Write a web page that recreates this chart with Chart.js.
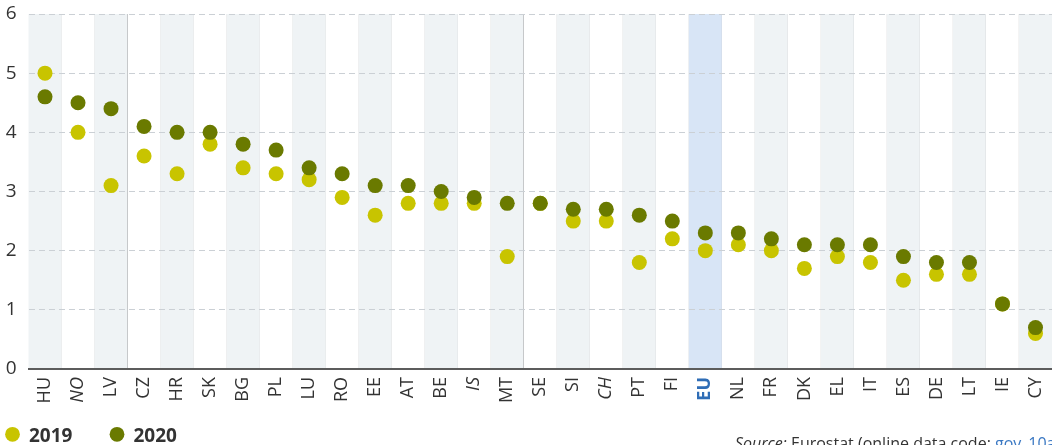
<!DOCTYPE html>
<html>
<head>
<meta charset="utf-8">
<script src="https://cdn.jsdelivr.net/npm/chart.js@4/dist/chart.umd.min.js"></script>
<style>
    html, body { margin: 0; padding: 0; background: #fff; }
    #chart { display: block; }
</style>
</head>
<body>
<canvas id="chart" width="1052" height="445"></canvas>
<script>
const countries = ['HU', 'NO', 'LV', 'CZ', 'HR', 'SK', 'BG', 'PL', 'LU', 'RO', 'EE', 'AT', 'BE', 'IS', 'MT', 'SE',
    'SI', 'CH', 'PT', 'FI', 'EU', 'NL', 'FR', 'DK', 'EL', 'IT', 'ES', 'DE', 'LT', 'IE', 'CY'];
const values2019 = [5.0, 4.0, 3.1, 3.6, 3.3, 3.8, 3.4, 3.3, 3.2, 2.9, 2.6, 2.8, 2.8, 2.8, 1.9, 2.8,
    2.5, 2.5, 1.8, 2.2, 2.0, 2.1, 2.0, 1.7, 1.9, 1.8, 1.5, 1.6, 1.6, 1.1, 0.6];
const values2020 = [4.6, 4.5, 4.4, 4.1, 4.0, 4.0, 3.8, 3.7, 3.4, 3.3, 3.1, 3.1, 3.0, 2.9, 2.8, 2.8,
    2.7, 2.7, 2.6, 2.5, 2.3, 2.3, 2.2, 2.1, 2.1, 2.1, 1.9, 1.8, 1.8, 1.1, 0.7];
const nonEu = ['NO', 'IS', 'CH'];
// group breaks: gridline index = first category after the break
const groupBreaks = [3, 15];
const yMin = 0;
const yMax = 6;
const yStep = 1;

const colors = {
    y2019: '#c8c400',
    y2020: '#6a7a00',
    band: '#eff3f5',
    euBand: '#d8e5f6',
    euText: '#2f6db6',
    text: '#333333',
    link: '#3a78c3'
};

const FONT = '"Open Sans", "DejaVu Sans", sans-serif';

// alternating column shading behind the grid
const bandsPlugin = {
    id: 'bands',
    beforeDraw(chart) {
        const { ctx, chartArea, scales: { x } } = chart;
        const step = x.width / countries.length;
        ctx.save();
        countries.forEach((c, i) => {
            let fill = null;
            if (c === 'EU') fill = colors.euBand;
            else if (i % 2 === 0) fill = colors.band;
            if (!fill) return;
            const cx = x.getPixelForValue(i);
            ctx.fillStyle = fill;
            ctx.fillRect(cx - step / 2, chartArea.top, step, chartArea.bottom - chartArea.top);
        });
        ctx.restore();
    }
};

// legend at the bottom left and the source note at the bottom right
const footerPlugin = {
    id: 'footer',
    afterDraw(chart) {
        const { ctx } = chart;
        ctx.save();

        const items = [
            { label: '2019', color: colors.y2019, x: 12.5 },
            { label: '2020', color: colors.y2020, x: 117 }
        ];
        ctx.textBaseline = 'alphabetic';
        ctx.font = `bold 19px ${FONT}`;
        items.forEach(item => {
            ctx.fillStyle = item.color;
            ctx.beginPath();
            ctx.arc(item.x, 434.3, 7.4, 0, Math.PI * 2);
            ctx.fill();
            ctx.fillStyle = colors.text;
            ctx.fillText(item.label, item.x + 16.5, 441.5);
        });

        const parts = [
            { text: 'Source:', style: 'italic', color: colors.text },
            { text: ' Eurostat (online data code: ', style: 'normal', color: colors.text },
            { text: 'gov_10a_exp', style: 'normal', color: colors.link },
            { text: ')', style: 'normal', color: colors.text }
        ];
        let sx = 735;
        parts.forEach(p => {
            ctx.font = `${p.style} 16px ${FONT}`;
            ctx.fillStyle = p.color;
            ctx.fillText(p.text, sx, 449);
            sx += ctx.measureText(p.text).width;
        });

        ctx.restore();
    }
};

new Chart(document.getElementById('chart'), {
    type: 'line',
    data: {
        labels: countries,
        datasets: [
            {
                label: '2019',
                data: values2019,
                backgroundColor: colors.y2019,
                borderColor: colors.y2019,
                order: 1
            },
            {
                label: '2020',
                data: values2020,
                backgroundColor: colors.y2020,
                borderColor: colors.y2020,
                order: 0
            }
        ]
    },
    plugins: [bandsPlugin, footerPlugin],
    options: {
        responsive: false,
        devicePixelRatio: 1,
        animation: false,
        showLine: false,
        events: [],
        layout: {
            autoPadding: false,
            padding: { top: 14, right: 0, bottom: 0, left: 0 }
        },
        elements: {
            point: {
                radius: 7.5,
                borderWidth: 0,
                hoverRadius: 7.5
            }
        },
        plugins: {
            legend: { display: false },
            tooltip: { enabled: false }
        },
        scales: {
            x: {
                type: 'category',
                offset: true,
                grid: {
                    offset: true,
                    drawTicks: false,
                    color: ctx => {
                        if (ctx.index === 0) return 'transparent';
                        return groupBreaks.includes(ctx.index) ? '#c6c8ca' : 'rgba(0, 0, 0, 0.045)';
                    },
                    lineWidth: 1
                },
                border: {
                    display: true,
                    color: '#5c5c5c',
                    width: 2
                },
                ticks: {
                    autoSkip: false,
                    minRotation: 90,
                    maxRotation: 90,
                    padding: 8,
                    color: ctx => (countries[ctx.index] === 'EU' ? colors.euText : colors.text),
                    font: ctx => {
                        const c = countries[ctx.index];
                        return {
                            family: FONT,
                            size: 18,
                            style: nonEu.includes(c) ? 'italic' : 'normal',
                            weight: c === 'EU' ? 'bold' : 'normal'
                        };
                    }
                },
                afterFit(scale) {
                    scale.height = 76;
                    scale.paddingLeft = 0;
                    scale.paddingRight = 0;
                }
            },
            y: {
                min: yMin,
                max: yMax,
                grid: {
                    drawTicks: false,
                    color: ctx => (ctx.tick.value === 0 ? 'transparent' : '#cbd0d5'),
                    lineWidth: 1
                },
                border: {
                    display: false,
                    dash: [6, 4]
                },
                ticks: {
                    stepSize: yStep,
                    padding: 12,
                    color: colors.text,
                    font: { family: FONT, size: 19 }
                },
                afterFit(scale) {
                    scale.width = 28.5;
                    scale.paddingTop = 0;
                    scale.paddingBottom = 0;
                }
            }
        }
    }
});
</script>
</body>
</html>
